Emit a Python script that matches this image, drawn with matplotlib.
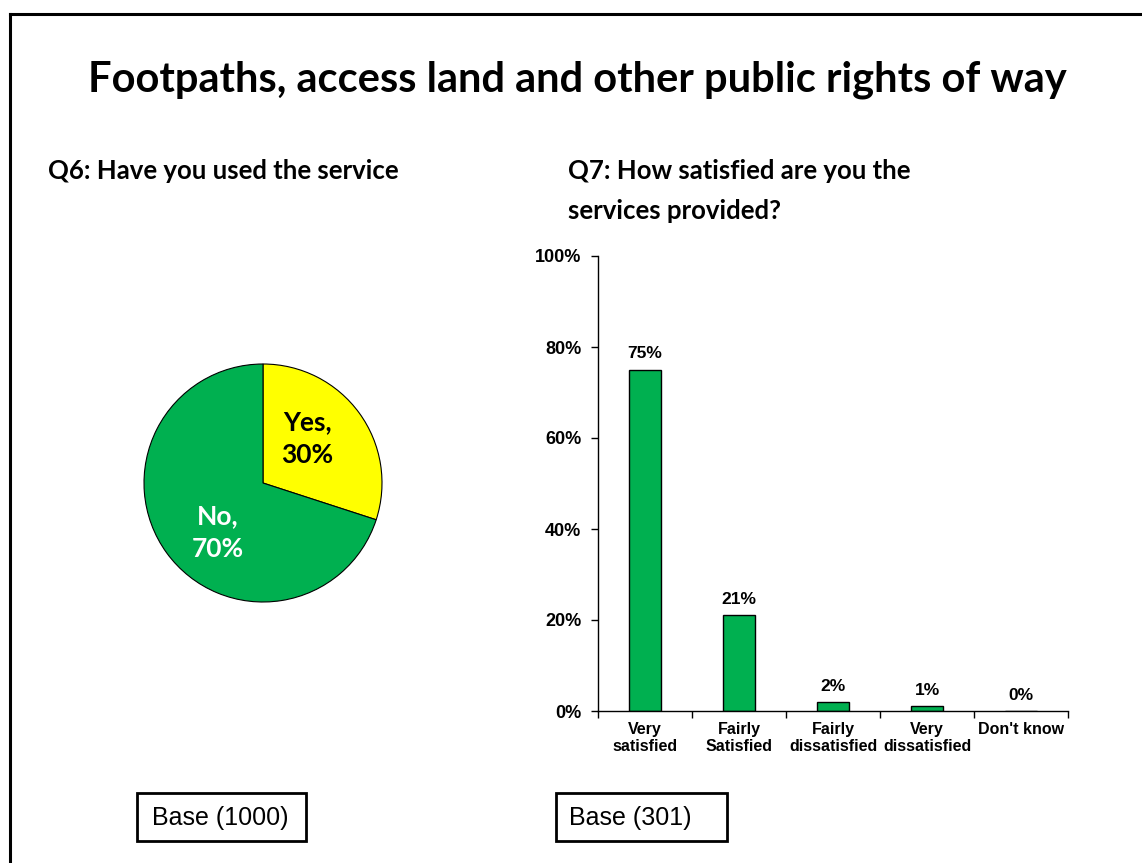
import matplotlib.pyplot as plt
from matplotlib.patches import Rectangle
from matplotlib.lines import Line2D

# Q6 pie data
pie_labels = ["Yes", "No"]
pie_values = [30, 70]
pie_colors = ["#FFFF00", "#00B050"]

# Q7 bar data
categories = ["Very\nsatisfied", "Fairly\nSatisfied", "Fairly\ndissatisfied",
              "Very\ndissatisfied", "Don't know"]
satisfaction = [75, 21, 2, 1, 0]
y_ticks = [0, 20, 40, 60, 80, 100]

base_q6 = 1000
base_q7 = 301

W, H = 1142, 863
fig = plt.figure(figsize=(W / 100, H / 100), dpi=100)
fig.patch.set_facecolor("white")

title_font = "Lato"
chart_font = "Liberation Sans"

def fx(px):
    return px / W

def fy(py):
    return 1 - py / H

# slide frame (runs off the right and bottom edges)
fig.add_artist(Line2D([fx(10), fx(10)], [fy(14), -0.1], color="black", lw=2.2,
                      transform=fig.transFigure))
fig.add_artist(Line2D([fx(10), 1.1], [fy(14), fy(14)], color="black", lw=2.2,
                      transform=fig.transFigure))

fig.text(fx(577), fy(80), "Footpaths, access land and other public rights of way",
         ha="center", va="center", fontsize=30, fontweight="bold", family=title_font)
fig.text(fx(48), fy(171), "Q6: Have you used the service",
         ha="left", va="center", fontsize=18.5, fontweight="bold", family=title_font)
fig.text(fx(568), fy(171), "Q7: How satisfied are you the",
         ha="left", va="center", fontsize=18.5, fontweight="bold", family=title_font)
fig.text(fx(568), fy(211), "services provided?",
         ha="left", va="center", fontsize=18.5, fontweight="bold", family=title_font)

# --- pie ---
cx, cy, r = 263, 483, 119
ax_pie = fig.add_axes([fx(cx - r), fy(cy + r), 2 * r / W, 2 * r / H])
wedges, _ = ax_pie.pie(pie_values, colors=pie_colors, startangle=90, counterclock=False,
                       wedgeprops=dict(edgecolor="black", linewidth=0.8))
ax_pie.set_xlim(-1, 1)
ax_pie.set_ylim(-1, 1)
ax_pie.set_aspect("equal")
ax_pie.axis("off")
ax_pie.text(0.37, 0.37, f"{pie_labels[0]},\n{pie_values[0]}%", ha="center", va="center",
            fontsize=19, fontweight="bold", family=title_font, color="black",
            linespacing=1.45)
ax_pie.text(-0.38, -0.42, f"{pie_labels[1]},\n{pie_values[1]}%", ha="center", va="center",
            fontsize=19, fontweight="bold", family=title_font, color="white",
            linespacing=1.45)

# --- bars ---
ax = fig.add_axes([fx(598), fy(711), (1068 - 598) / W, (711 - 256) / H])
x = list(range(len(categories)))
ax.bar(x, satisfaction, width=0.35, color="#00B050", edgecolor="black", linewidth=1.0)
for xi, v in zip(x, satisfaction):
    ax.annotate(f"{v}%", (xi, v), xytext=(0, 6), textcoords="offset points",
                ha="center", va="bottom", fontsize=12.5, fontweight="bold", family=chart_font)
ax.set_xlim(-0.5, len(categories) - 0.5)
ax.set_ylim(0, 100)
ax.set_yticks(y_ticks)
ax.set_yticklabels([f"{t}%" for t in y_ticks], fontsize=13, fontweight="bold",
                   family=chart_font)
ax.set_xticks(x)
ax.set_xticklabels(categories, fontsize=11.5, fontweight="bold", family=chart_font,
                   linespacing=1.15)
ax.set_xticks([i - 0.5 for i in range(len(categories) + 1)], minor=True)
ax.tick_params(axis="x", which="major", length=0, pad=8)
ax.tick_params(axis="x", which="minor", length=5, width=1, direction="out")
ax.tick_params(axis="y", length=5, width=1, direction="out", pad=7)
for s in ["top", "right"]:
    ax.spines[s].set_visible(False)
for s in ["left", "bottom"]:
    ax.spines[s].set_linewidth(1)

# base boxes
for left, right, txt_x, n in [(137, 306, 152, base_q6), (556, 727, 569, base_q7)]:
    fig.add_artist(Rectangle((fx(left), fy(841)), (right - left) / W, 48 / H,
                             transform=fig.transFigure, fill=False,
                             edgecolor="black", lw=2))
    fig.text(fx(txt_x), fy(818), f"Base ({n})", ha="left", va="center",
             fontsize=18, family=chart_font)

fig.savefig("out.png", dpi=100)
